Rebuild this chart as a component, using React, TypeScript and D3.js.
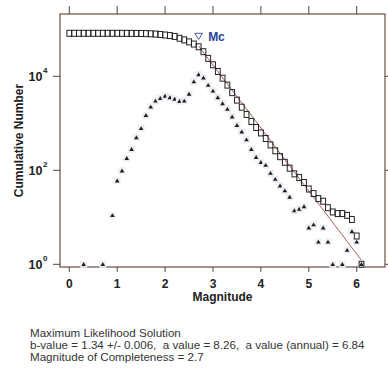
import React from "react";
import * as d3 from "d3";

// Magnitude bins (0.1 step) for the cumulative curve
const cumMags: number[] = [
  0.0, 0.1, 0.2, 0.3, 0.4, 0.5, 0.6, 0.7, 0.8, 0.9,
  1.0, 1.1, 1.2, 1.3, 1.4, 1.5, 1.6, 1.7, 1.8, 1.9,
  2.0, 2.1, 2.2, 2.3, 2.4, 2.5, 2.6, 2.7, 2.8, 2.9,
  3.0, 3.1, 3.2, 3.3, 3.4, 3.5, 3.6, 3.7, 3.8, 3.9,
  4.0, 4.1, 4.2, 4.3, 4.4, 4.5, 4.6, 4.7, 4.8, 4.9,
  5.0, 5.1, 5.2, 5.3, 5.4, 5.5, 5.6, 5.7, 5.8, 5.9,
  6.0, 6.1,
];
// Cumulative number of events (squares)
const cumCounts: number[] = [
  82200, 82200, 82200, 82200, 82200, 82200, 82200, 82200, 82200, 82200,
  82150, 82100, 82000, 81900, 81700, 81400, 81000, 80300, 79200, 77500,
  75500, 73500, 70500, 64500, 59500, 54000, 48500, 42500, 33374, 24074,
  17574, 12674, 9124, 6494, 4494, 3114, 2204, 1544, 1094, 814,
  624, 476, 347, 260, 195, 148, 111, 84, 70, 55,
  40, 32, 25, 22, 16, 13, 12, 12, 11, 9,
  4, 1,
];

// Non-cumulative counts per bin (triangles)
const incMags: number[] = [
  0.3, 0.7, 0.9, 1.0, 1.1, 1.2, 1.3, 1.4, 1.5, 1.6,
  1.7, 1.8, 1.9, 2.0, 2.1, 2.2, 2.3, 2.4, 2.5, 2.6,
  2.7, 2.8, 2.9, 3.0, 3.1, 3.2, 3.3, 3.4, 3.5, 3.6,
  3.7, 3.8, 3.9, 4.0, 4.1, 4.2, 4.3, 4.4, 4.5, 4.6,
  4.7, 4.8, 4.9, 5.0, 5.1, 5.2, 5.3, 5.4, 5.5, 5.7,
  5.8, 5.9, 6.0, 6.1,
];
const incCounts: number[] = [
  1, 1, 11, 60, 98, 180, 280, 500, 780, 1480,
  2240, 3000, 3400, 3800, 3550, 3300, 2950, 3000, 4200, 7700,
  10900, 9300, 6500, 4900, 3550, 2630, 2000, 1380, 910, 660,
  450, 280, 190, 148, 129, 87, 65, 47, 37, 27,
  14, 15, 17, 6, 7, 3, 6, 3, 1, 1,
  2, 5, 3, 1,
];

const xTicks: number[] = [0, 1, 2, 3, 4, 5, 6];
const yTicks: number[] = [1, 100, 10000];
const yTickExp: string[] = ["0", "2", "4"];

const bValue = 1.34;
const aValue = 8.26;
const mc = 2.7;
const fitEnd = 6.1;

const infoLines: string[] = [
  "Maximum Likelihood Solution",
  "b-value = 1.34 +/- 0.006,  a value = 8.26,  a value (annual) = 6.84",
  "Magnitude of Completeness = 2.7",
];

const FONT = "'Liberation Sans', Arial, Helvetica, sans-serif";

export default function App() {
  const W = 388;
  const H = 369;
  const frame = { left: 60, right: 385, top: 14, bottom: 267 };
  const x = d3.scaleLinear().domain([0, 6]).range([69.3, 356.7]);
  const y = d3.scaleLog().domain([1, 10000]).range([264.3, 76.3]);

  const frameColor = "#6e4a42";
  const tickColor = "#4a4a4a";

  const fitData = [mc, fitEnd].map((m) => [m, Math.pow(10, aValue - bValue * m)] as [number, number]);
  const fitLine = d3
    .line<[number, number]>()
    .x((d) => x(d[0]))
    .y((d) => y(d[1]))(fitData);

  const mcIdx = cumMags.findIndex((m) => Math.abs(m - mc) < 1e-6);
  const mcX = x(mc);
  const mcY = y(cumCounts[mcIdx]) - 10.5;

  return (
    <svg
      width={W}
      height={H}
      style={{ position: "absolute", left: 0, top: 0, background: "#fff" }}
      fontFamily={FONT}
    >
      <rect x={0} y={0} width={W} height={H} fill="#fff" />
      {/* frame */}
      <rect
        x={frame.left}
        y={frame.top}
        width={frame.right - frame.left}
        height={frame.bottom - frame.top}
        fill="none"
        stroke={frameColor}
        strokeWidth={1.2}
      />
      {/* x ticks bottom and top */}
      {xTicks.map((t) => (
        <g key={"xt" + t}>
          <line x1={x(t)} x2={x(t)} y1={frame.bottom} y2={frame.bottom + 5} stroke={tickColor} strokeWidth={1} />
          <line x1={x(t)} x2={x(t)} y1={frame.top} y2={frame.top - 8} stroke={tickColor} strokeWidth={1} />
          <text
            x={x(t)}
            y={frame.bottom + 20.5}
            textAnchor="middle"
            fontSize={12}
            fontWeight="bold"
            fill="#222"
          >
            {t}
          </text>
        </g>
      ))}
      {/* y ticks left and right */}
      {yTicks.map((t, i) => (
        <g key={"yt" + t}>
          <line x1={frame.left} x2={frame.left - 7} y1={y(t)} y2={y(t)} stroke={tickColor} strokeWidth={1} />
          <line x1={frame.right} x2={frame.right + 4} y1={y(t)} y2={y(t)} stroke={tickColor} strokeWidth={1} />
          <text x={42.5} y={y(t) + 5} textAnchor="end" fontSize={12.5} fontWeight="bold" fill="#222">
            10
          </text>
          <text x={43} y={y(t) - 3} textAnchor="start" fontSize={8} fontWeight="bold" fill="#222">
            {yTickExp[i]}
          </text>
        </g>
      ))}
      {/* axis titles */}
      <text
        x={(frame.left + frame.right) / 2}
        y={300.5}
        textAnchor="middle"
        fontSize={12}
        fontWeight="bold"
        fill="#222"
      >
        Magnitude
      </text>
      <text
        transform={`translate(22.5, ${(frame.top + frame.bottom) / 2}) rotate(-90)`}
        textAnchor="middle"
        fontSize={12}
        fontWeight="bold"
        fill="#222"
      >
        Cumulative Number
      </text>

      {/* triangles (non-cumulative) */}
      {incMags.map((m, i) => {
        const cx = x(m);
        const cy = y(incCounts[i]);
        return (
          <g key={"tri" + i}>
            <rect x={cx - 3.5} y={cy - 3.5} width={7} height={7} fill="#eceef3" />
            <path
              d={`M${cx - 2.3},${cy + 1.7}L${cx + 2.3},${cy + 1.7}L${cx},${cy - 2.2}Z`}
              fill="#1e1e1e"
            />
          </g>
        );
      })}

      {/* fit line */}
      <path d={fitLine || ""} fill="none" stroke="#a8625c" strokeWidth={1} />

      {/* squares (cumulative) */}
      {cumMags.map((m, i) => (
        <rect
          key={"sq" + i}
          x={x(m) - 2.4}
          y={y(cumCounts[i]) - 3}
          width={4.8}
          height={6}
          fill="none"
          stroke="#222"
          strokeWidth={1}
        />
      ))}

      {/* Mc marker */}
      <path
        d={`M${mcX - 3.8},${mcY - 3}L${mcX + 3.8},${mcY - 3}L${mcX},${mcY + 3.2}Z`}
        fill="#fff"
        stroke="#4a5a9a"
        strokeWidth={1}
      />
      <text x={mcX + 9.5} y={mcY + 5} fontSize={12} fontWeight="bold" fill="#2a3f96">
        Mc
      </text>

      {/* info text */}
      {infoLines.map((s, i) => (
        <text
          key={"info" + i}
          x={30}
          y={337 + i * 12}
          fontSize={11.6}
          fill="#333"
          style={{ whiteSpace: "pre" }}
        >
          {s}
        </text>
      ))}
    </svg>
  );
}
